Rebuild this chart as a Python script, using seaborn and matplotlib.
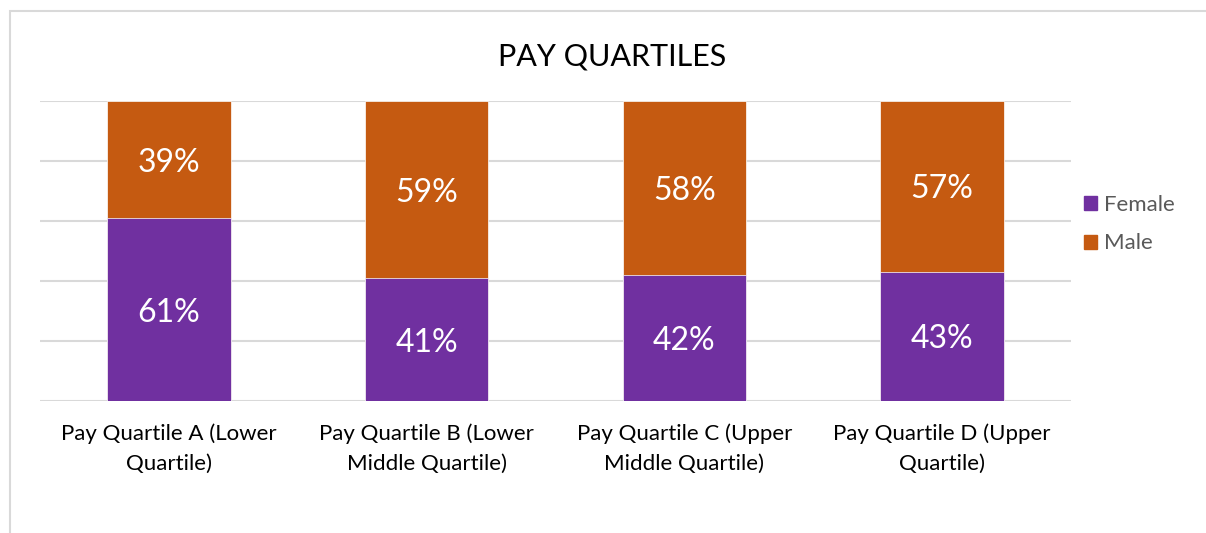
import matplotlib.pyplot as plt
import matplotlib.patches as mpatches
import seaborn as sns

### Dados
quartis = ["Pay Quartile A (Lower\nQuartile)", "Pay Quartile B (Lower\nMiddle Quartile)",
			"Pay Quartile C (Upper\nMiddle Quartile)", "Pay Quartile D (Upper\nQuartile)"]
female = [61, 41, 42, 43]
male = [39, 59, 58, 57]
total = [f + m for f, m in zip(female, male)]

roxo = "#7030A0"
laranja = "#C55A11"

sns.set_theme(style = "white")
plt.rcParams["font.family"] = ["Lato", "DejaVu Sans"]

fig = plt.figure(figsize = (12.06, 5.33), dpi = 100)
ax = fig.add_axes([40 / 1206, 132 / 533, 1031 / 1206, 300 / 533])

### Borda externa do gráfico
fig.patches.append(mpatches.Rectangle((10 / 1206, -0.1), 1.2, (533 - 11) / 533 + 0.1,
				transform = fig.transFigure, fill = False, edgecolor = "#d9d9d9", linewidth = 1.5))

# barra total (masculino) atrás, feminino na frente
sns.barplot(x = quartis, y = total, color = laranja, width = 0.48, saturation = 1,
				edgecolor = "white", linewidth = 0.5, ax = ax, zorder = 2)
sns.barplot(x = quartis, y = female, color = roxo, width = 0.48, saturation = 1,
				edgecolor = "white", linewidth = 0.5, ax = ax, zorder = 3)

for i in range(len(quartis)):
	ax.text(i, female[i] / 2, f"{female[i]}%", ha = "center", va = "center_baseline",
				color = "white", fontsize = 23, zorder = 4)
	ax.text(i, female[i] + male[i] / 2, f"{male[i]}%", ha = "center", va = "center_baseline",
				color = "white", fontsize = 23, zorder = 4)

ax.set_ylim(0, 100)
ax.set_xlim(-0.5, 3.5)
ax.set_yticks([0, 20, 40, 60, 80, 100])
ax.set_yticklabels([])
ax.tick_params(axis = "y", length = 0)
ax.tick_params(axis = "x", length = 0, labelsize = 16, labelcolor = "black", pad = 16)
for rotulo in ax.get_xticklabels():
	rotulo.set_linespacing(1.6)
ax.yaxis.grid(True, color = "#d9d9d9", linewidth = 1.5)
ax.set_axisbelow(True)
for lado in ["top", "right", "left", "bottom"]:
	ax.spines[lado].set_visible(False)

fig.text(612 / 1206, 1 - 57 / 533, "PAY QUARTILES", ha = "center", va = "center",
			fontsize = 22, color = "black")

alcas = [mpatches.Patch(color = roxo, label = "Female"),
			mpatches.Patch(color = laranja, label = "Male")]
fig.legend(handles = alcas, loc = "center left", bbox_to_anchor = (1064 / 1206, 1 - 224 / 533),
			frameon = False, fontsize = 16, labelcolor = "#595959",
			handlelength = 0.6, handleheight = 0.6, handletextpad = 0.3, labelspacing = 0.85)

plt.savefig("out.png", dpi = 100)
